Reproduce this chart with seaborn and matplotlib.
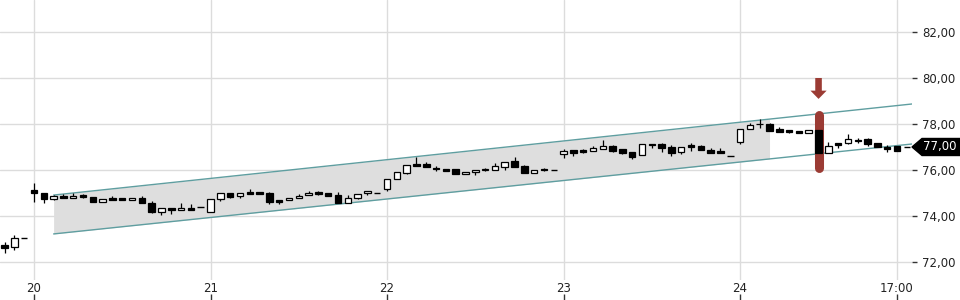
import numpy as np
import pandas as pd
import matplotlib
matplotlib.use("Agg")
import matplotlib.pyplot as plt
import seaborn as sns
from matplotlib.patches import Polygon, FancyArrow
from matplotlib.transforms import blended_transform_factory

# ---------------- data ----------------
start_index = -3
opens = [72.74, 72.64, 73.03, 75.13, 74.99, 74.73, 74.87, 74.78, 74.90, 74.81,
         74.60, 74.80, 74.78, 74.68, 74.78, 74.58, 74.16, 74.33, 74.25, 74.33,
         74.38, 74.16, 74.74, 74.99, 74.88, 75.03, 75.03, 74.99, 74.70, 74.68,
         74.78, 74.90, 75.04, 75.01, 74.91, 74.58, 74.77, 74.99, 75.00, 75.16,
         75.60, 75.88, 76.25, 76.25, 76.10, 76.06, 76.03, 75.81, 75.91, 76.00,
         76.00, 76.13, 76.40, 76.17, 75.86, 76.04, 76.01, 76.71, 76.87, 76.86,
         76.82, 76.91, 77.06, 76.90, 76.80, 76.65, 77.14, 77.12, 77.00, 76.77,
         77.10, 77.06, 76.87, 76.84, 76.60, 77.20, 77.78, 77.98, 78.00, 77.78,
         77.72, 77.71, 77.62, 77.74, 76.73, 77.19, 77.19, 77.32, 77.33, 77.16,
         77.01, 77.03, 77.00]
highs = [72.87, 73.16, 73.03, 75.42, 74.99, 74.92, 74.96, 74.99, 74.95, 74.81,
         74.73, 74.87, 74.78, 74.78, 74.85, 74.67, 74.35, 74.33, 74.55, 74.52,
         74.38, 74.73, 74.99, 74.99, 74.99, 75.16, 75.03, 75.04, 74.70, 74.78,
         74.95, 75.08, 75.10, 75.01, 75.04, 74.91, 74.96, 75.07, 75.00, 75.60,
         75.91, 76.22, 76.55, 76.33, 76.18, 76.06, 76.03, 75.93, 76.01, 76.08,
         76.32, 76.36, 76.55, 76.22, 76.01, 76.10, 76.01, 76.90, 76.87, 76.90,
         77.06, 77.30, 77.08, 76.90, 76.80, 77.14, 77.14, 77.16, 77.07, 77.01,
         77.16, 77.10, 76.94, 76.97, 76.60, 77.78, 78.03, 78.22, 78.06, 77.88,
         77.72, 77.71, 77.74, 77.74, 77.23, 77.19, 77.57, 77.40, 77.40, 77.16,
         77.07, 77.03, 77.00]
lows = [72.39, 72.51, 73.03, 74.62, 74.58, 74.70, 74.78, 74.78, 74.78, 74.60,
        74.60, 74.71, 74.68, 74.68, 74.55, 74.13, 74.04, 74.07, 74.25, 74.25,
        74.38, 74.16, 74.65, 74.80, 74.80, 74.97, 74.97, 74.51, 74.51, 74.68,
        74.78, 74.90, 74.90, 74.87, 74.58, 74.58, 74.73, 74.93, 75.00, 75.09,
        75.60, 75.83, 76.19, 76.12, 75.97, 75.97, 75.81, 75.81, 75.78, 75.95,
        76.00, 75.99, 76.12, 75.86, 75.86, 75.95, 76.01, 76.53, 76.62, 76.72,
        76.82, 76.91, 76.80, 76.70, 76.49, 76.65, 76.97, 76.77, 76.60, 76.68,
        76.84, 76.86, 76.75, 76.75, 76.60, 77.13, 77.78, 77.84, 77.71, 77.67,
        77.60, 77.62, 77.62, 76.73, 76.73, 76.97, 77.12, 77.18, 77.04, 77.01,
        76.80, 76.84, 77.00]
closes = [72.61, 73.06, 73.03, 75.01, 74.73, 74.87, 74.78, 74.87, 74.84, 74.60,
          74.73, 74.71, 74.68, 74.78, 74.55, 74.16, 74.33, 74.25, 74.33, 74.25,
          74.38, 74.73, 74.99, 74.84, 74.99, 74.97, 74.97, 74.61, 74.61, 74.78,
          74.88, 75.01, 74.97, 74.87, 74.58, 74.77, 74.96, 75.07, 75.00, 75.60,
          75.91, 76.22, 76.19, 76.12, 76.03, 75.97, 75.81, 75.93, 76.01, 76.03,
          76.19, 76.36, 76.12, 75.86, 76.01, 76.00, 76.01, 76.84, 76.74, 76.77,
          76.94, 77.06, 76.83, 76.75, 76.58, 77.14, 77.07, 76.97, 76.75, 77.01,
          76.99, 76.86, 76.75, 76.75, 76.60, 77.78, 77.96, 78.02, 77.71, 77.67,
          77.65, 77.62, 77.74, 76.73, 77.06, 77.10, 77.35, 77.25, 77.13, 77.01,
          76.93, 76.84, 77.00]

day_tick_pos = [0, 18, 36, 54, 72, 88]
day_tick_labels = ["20", "21", "22", "23", "24", "17:00"]
y_ticks = [72, 74, 76, 78, 80, 82]

channel_x = [2, 89.53]
channel_upper = [74.91, 78.87]
channel_lower = [73.22, 77.13]
shade_end = 75.0

highlight_index = 80
highlight_range = [76.08, 78.37]
arrow_top = 80.0
arrow_tip = 79.09

last_price = 77.00
last_label = "77,00"

# ---------------- style ----------------
sns.set_style("white")
plt.rcParams['font.family'] = ['DejaVu Sans']

RED = "#9b3b34"
TEAL = "#5f9ea0"
GRID = "#dcdcdc"
TXT = "#222222"

fig = plt.figure(figsize=(9.6, 3.0), dpi=100)
ax = fig.add_axes([0, 20 / 300, 912 / 960, 280 / 300])
ax.set_xlim(-3.467, 89.53)
ax.set_ylim(71.217, 83.391)

idx = np.arange(start_index, start_index + len(opens))
df = pd.DataFrame({"i": idx, "open": opens, "high": highs, "low": lows, "close": closes})

# channel shading
sx = np.array([channel_x[0], shade_end])
su = np.interp(sx, channel_x, channel_upper)
sl = np.interp(sx, channel_x, channel_lower)
ax.fill_between(sx, sl, su, color="#dedede", lw=0, zorder=1)
ch = pd.DataFrame({"x": channel_x * 2, "y": channel_upper + channel_lower,
                   "line": ["upper"] * 2 + ["lower"] * 2})
sns.lineplot(data=ch, x="x", y="y", units="line", estimator=None, color=TEAL,
             lw=1.0, ax=ax, zorder=2, legend=False)

# highlight bar
ax.plot([highlight_index, highlight_index], highlight_range, color=RED,
        lw=6.5, solid_capstyle="round", zorder=3)
ax.add_patch(FancyArrow(highlight_index, arrow_top, 0, arrow_tip - arrow_top,
                        width=0.67, head_width=1.65, head_length=0.36,
                        length_includes_head=True, color=RED, lw=0, zorder=3))

# candles
bw = 0.66
for _, r in df.iterrows():
    x = r["i"]
    o, h, l, c = r["open"], r["high"], r["low"], r["close"]
    ax.vlines(x, l, h, color="black", lw=0.9, zorder=4)
    if abs(c - o) < 1e-9:
        ax.hlines(o, x - bw / 2, x + bw / 2, color="black", lw=1.0, zorder=5)
    else:
        face = "white" if c > o else "black"
        ax.bar(x, abs(c - o), bottom=min(o, c), width=bw, color=face,
               edgecolor="black", lw=0.9, zorder=5)

# axes styling
for s in ax.spines.values():
    s.set_visible(False)
ax.grid(True, color=GRID, lw=1.0, zorder=0)
ax.set_axisbelow(True)
ax.set_xlabel("")
ax.set_ylabel("")
ax.yaxis.tick_right()
ax.set_yticks(y_ticks)
ax.set_yticklabels([f"{v:.2f}".replace(".", ",") for v in y_ticks])
ax.tick_params(axis="y", length=3.6, width=1.0, color="#333333", pad=3.6,
               labelsize=8.5, labelcolor=TXT)
ax.set_xticks(day_tick_pos)
ax.set_xticklabels(day_tick_labels)
ax.tick_params(axis="x", length=0, pad=1.5, labelsize=8.5, labelcolor=TXT)

sec = ax.secondary_xaxis(-20 / 280)
sec.set_xticks(day_tick_pos)
sec.set_xticklabels([])
sec.tick_params(direction="in", length=4, width=1.0, color="#333333")
for s in sec.spines.values():
    s.set_visible(False)

# price tag
tr = blended_transform_factory(ax.transAxes, ax.transData)
hh = 8.5 / 23
tag = Polygon([(1.0, last_price), (10 / 912 + 1, last_price + hh), (1.06, last_price + hh),
               (1.06, last_price - hh), (10 / 912 + 1, last_price - hh)],
              closed=True, transform=tr, color="black", clip_on=False, zorder=6)
ax.add_patch(tag)
ax.text(1 + 11 / 912, last_price, last_label, transform=tr, color="white",
        fontsize=8.5, ha="left", va="center", clip_on=False, zorder=7)

fig.savefig("out.png", dpi=100)
